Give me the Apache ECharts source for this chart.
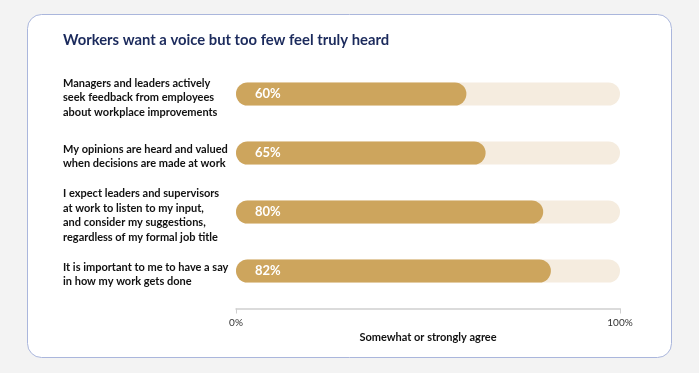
<!DOCTYPE html>
<html><head><meta charset="utf-8">
<script src="https://cdn.jsdelivr.net/npm/echarts@6/dist/echarts.min.js"></script>
<style>html,body{margin:0;padding:0;background:#f3f3f3;}#c{width:699px;height:373px;}</style>
</head><body><div id="c"></div>
<script>
const title = 'Workers want a voice but too few feel truly heard';
const categories = [
  'Managers and leaders actively\nseek feedback from employees\nabout workplace improvements',
  'My opinions are heard and valued\nwhen decisions are made at work',
  'I expect leaders and supervisors\nat work to listen to my input,\nand consider my suggestions,\nregardless of my formal job title',
  'It is important to me to have a say\nin how my work gets done'
];
const agreeValues = [60, 65, 80, 82];
const trackValues = [100, 100, 100, 100];
const axisName = 'Somewhat or strongly agree';
const FONT = 'Lato, "Noto Sans", sans-serif';
const chart = echarts.init(document.getElementById('c'));
chart.setOption({
  backgroundColor: '#f3f3f3',
  animation: false,
  graphic: [{
    type: 'rect', z: -10, silent: true,
    shape: {x: 27.5, y: 14.5, width: 644, height: 343, r: 14},
    style: {fill: '#ffffff', stroke: '#aab6dc', lineWidth: 1}
  }, {
    type: 'text', left: 63, top: 33,
    style: {text: title, fill: '#1b2a5c', font: 'bold 14.8px ' + FONT}
  }],
  grid: {left: 236, right: 79, top: 64.5, height: 236},
  xAxis: {
    type: 'value', min: 0, max: 100, interval: 100, offset: 8,
    axisLine: {show: true, lineStyle: {color: '#cfcfcf', width: 1.5}},
    axisTick: {show: true, length: 5, lineStyle: {color: '#cfcfcf'}},
    splitLine: {show: false},
    axisLabel: {formatter: '{value}%', color: '#333', fontSize: 10, fontFamily: FONT, margin: 9},
    name: axisName, nameLocation: 'middle', nameGap: 20,
    nameTextStyle: {color: '#111', fontSize: 11, fontWeight: 'bold', fontFamily: FONT}
  },
  yAxis: {
    type: 'category', data: categories, inverse: true,
    axisLine: {show: false}, axisTick: {show: false},
    axisLabel: {align: 'left', margin: 173, color: '#111', fontSize: 11, fontWeight: 'bold',
      fontFamily: FONT, lineHeight: 14.5,
      formatter: v => '{s|}\n' + v,
      rich: {s: {lineHeight: 7, fontSize: 1}}}
  },
  series: [{
    type: 'bar', data: trackValues, barWidth: 23, barGap: '-100%', silent: true,
    itemStyle: {color: '#f5ecdf', borderRadius: 12}, z: 1
  }, {
    type: 'bar', data: agreeValues, barWidth: 23, z: 2,
    itemStyle: {color: '#cda55d', borderRadius: 12},
    label: {show: true, position: 'insideLeft', distance: 19, formatter: '{c}%',
      color: '#fff', fontSize: 13, fontWeight: 'bold', fontFamily: FONT}
  }]
});
</script></body></html>
